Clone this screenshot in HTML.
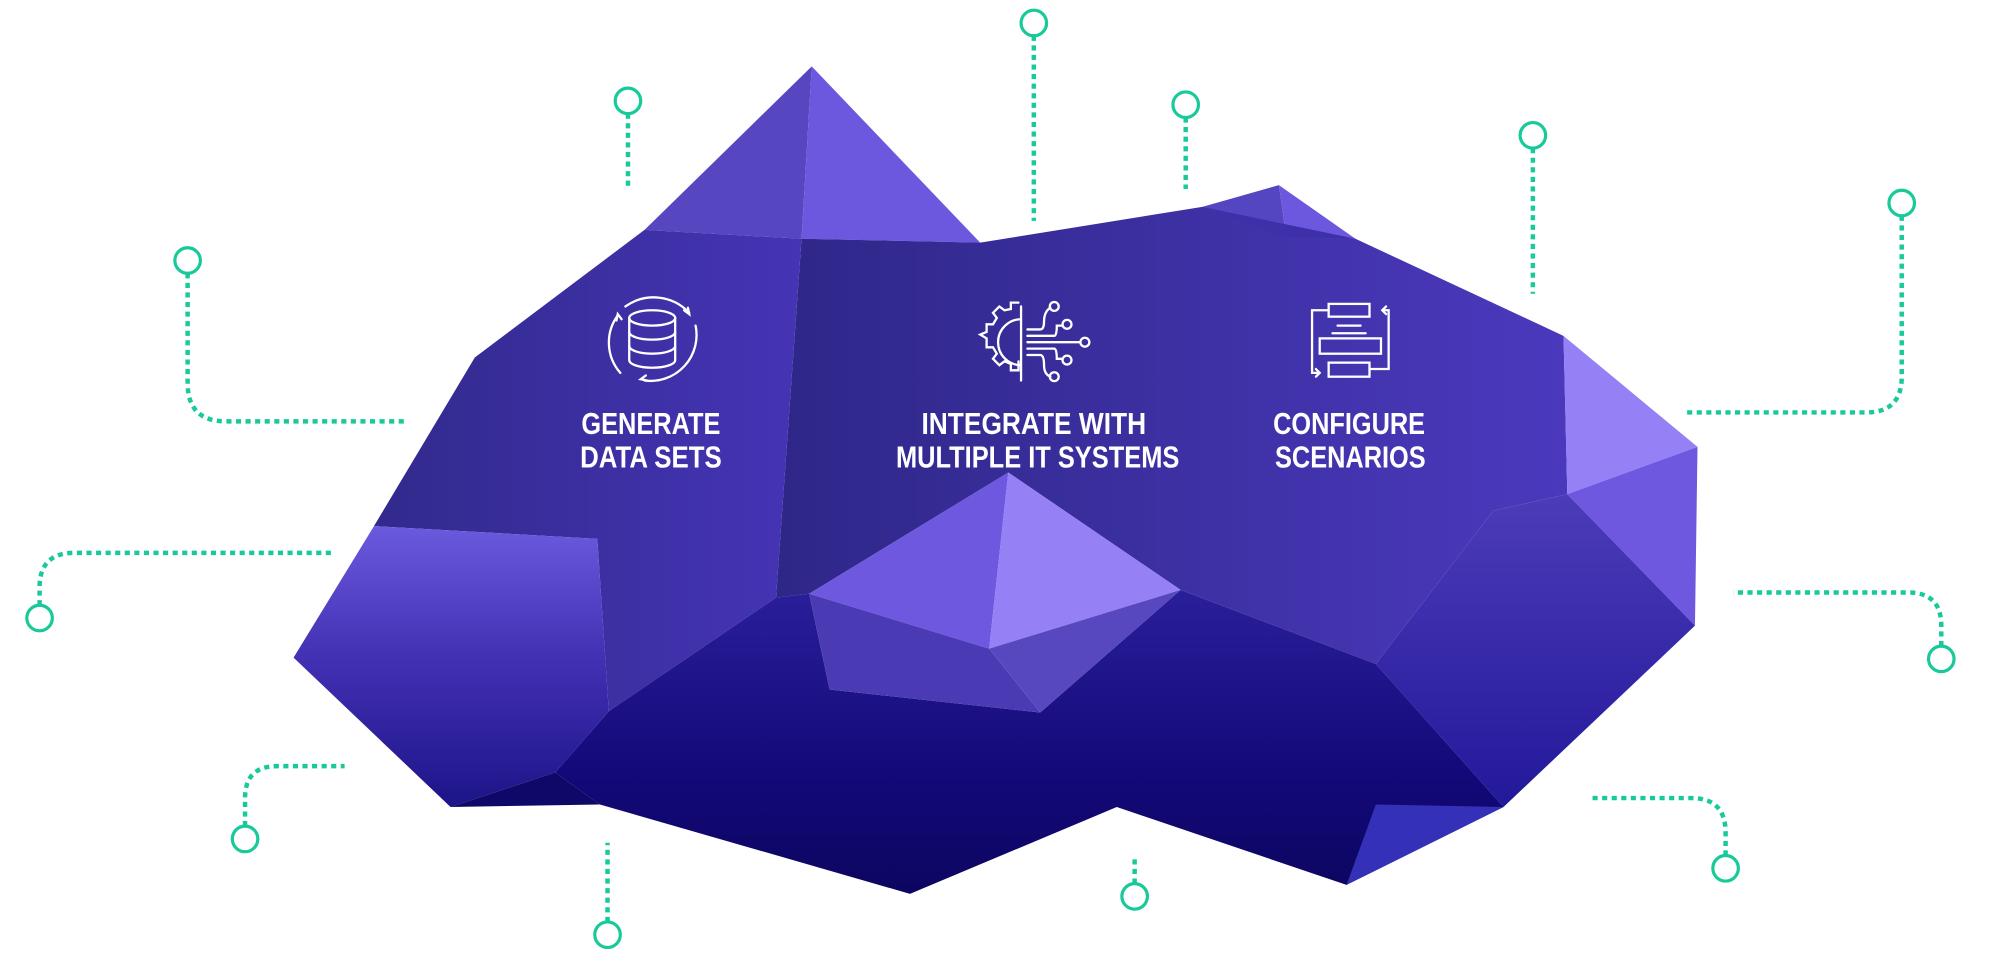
<!DOCTYPE html>
<html><head><meta charset="utf-8"><style>
html,body{margin:0;padding:0;background:#fff;width:2000px;height:973px;overflow:hidden}
svg{display:block}
</style></head><body>
<svg width="2000" height="973" viewBox="0 0 1567 762" preserveAspectRatio="none" xmlns="http://www.w3.org/2000/svg">
<defs>
<linearGradient id="gMain" x1="0" y1="0" x2="1" y2="0"><stop offset="0" stop-color="#2e2788"/><stop offset="1" stop-color="#4b39bd"/></linearGradient>
<linearGradient id="gLeft" x1="0" y1="0" x2="1" y2="0"><stop offset="0" stop-color="#312a8c"/><stop offset="1" stop-color="#4534b5"/></linearGradient>
<linearGradient id="gLL" x1="0" y1="0" x2="0" y2="1"><stop offset="0" stop-color="#6a5add"/><stop offset="0.45" stop-color="#4432b5"/><stop offset="1" stop-color="#1c1488"/></linearGradient>
<linearGradient id="gDark" x1="0" y1="0" x2="0" y2="1"><stop offset="0" stop-color="#2a1f9a"/><stop offset="0.6" stop-color="#13097a"/><stop offset="1" stop-color="#0c0660"/></linearGradient>
<linearGradient id="gR" x1="0" y1="0" x2="0" y2="1"><stop offset="0" stop-color="#4c3cb8"/><stop offset="1" stop-color="#22189a"/></linearGradient>
</defs>
<polygon points="505,180 636,52 628,187" fill="#5647c0"/>
<polygon points="636,52 768,190 628,187" fill="#6c58df"/>
<polygon points="628,187 768,190 942,162 1062,187 1225,263 1228,387 1170,400 1078,520 925,462 790,370 634,465 608,468" fill="url(#gMain)"/>
<polygon points="372,280 505,180 628,187 608,468 477,557 468,422 293,412" fill="url(#gLeft)"/>
<polygon points="942,162 1002,145 1008,187" fill="#5446c0"/>
<polygon points="1002,145 1062,187 1008,187" fill="#6c58df"/>
<polygon points="942,162 1008,187 1062,187" fill="#3e30a8"/>
<polygon points="1225,263 1330,350 1228,387" fill="#9580f5"/>
<polygon points="1228,387 1330,350 1328,490" fill="#6e58e0"/>
<polygon points="1170,400 1228,387 1328,490 1178,632 1078,520" fill="url(#gR)"/>
<polygon points="608,468 634,465 650,540 815,558 925,462 1078,520 1178,632 1055,693 875,632 713,700 470,630 435,605 477,557" fill="url(#gDark)"/>
<polygon points="293,412 468,422 477,557 435,605 353,632 230,515" fill="url(#gLL)"/>
<polygon points="435,605 470,630 353,632" fill="#0e0868"/>
<polygon points="1078,630 1178,632 1055,693" fill="#3430b8"/>
<polygon points="790,370 634,465 775,508" fill="#6e58e0"/>
<polygon points="790,370 925,462 775,508" fill="#9580f5"/>
<polygon points="634,465 775,508 815,558 650,540" fill="#4a3bb5"/>
<polygon points="775,508 925,462 815,558" fill="#5848c0"/>

<g fill="none" stroke="#fff" stroke-width="1.8" stroke-linecap="round">
  <ellipse cx="511" cy="249" rx="18" ry="6"/>
  <path d="M493 249 V282 A18 6 0 0 0 529 282 V249"/>
  <path d="M493 260 A18 6 0 0 0 529 260 M493 271 A18 6 0 0 0 529 271"/>
  <path d="M490 240 A38 38 0 0 1 540 245 M484 247 A36 36 0 0 0 486 292 M545 255 A36 36 0 0 1 505 298"/>
  <path d="M536 243 l4 3 -1 -5 M487 250 l-3 -4 -1 5 M506 294 l-4 3 5 1"/>
  <path d="M798 237 H792 V242 L787 243 L783 240 L778 245 L781 249 L778 254 H773 V260 L768 262 L773 265 V272 H778 L781 277 L778 281 L783 286 L787 283 L792 285 V290 H798 V283"/>
  <path d="M800 240 V298 M800 250 A18 18 0 0 0 800 286"/>
  <path d="M805 258 H815 Q818 258 818 252 Q818 244 823 241 M805 263 H826 Q828 263 828 255 H832 M805 268 H846 M805 273 H826 Q828 273 828 281 H832 M805 278 H815 Q818 278 818 286 Q818 293 823 295"/>
  <circle cx="826" cy="240" r="3.5"/><circle cx="836" cy="254" r="3.5"/><circle cx="850" cy="268" r="3.5"/><circle cx="836" cy="282" r="3.5"/><circle cx="826" cy="295" r="3.5"/>
  <rect x="1041" y="238" width="32" height="10"/>
  <rect x="1034" y="265" width="48" height="12"/>
  <rect x="1041" y="284" width="32" height="11"/>
  <path d="M1048 255 H1066 M1044 261 H1070"/>
  <path d="M1041 243 H1028 V292 H1033 M1073 289 H1088 V243 H1083 M1031 289 l3 3 -3 3 M1086 240 l-3 3 3 3"/>
</g>

<g fill="#fff" font-family="'Liberation Sans Narrow','Liberation Sans',sans-serif" font-weight="bold" font-size="24" text-anchor="middle">
  <text x="510" y="340" textLength="109" lengthAdjust="spacingAndGlyphs">GENERATE</text>
  <text x="510" y="366" textLength="111" lengthAdjust="spacingAndGlyphs">DATA SETS</text>
  <text x="810" y="340" textLength="176" lengthAdjust="spacingAndGlyphs">INTEGRATE WITH</text>
  <text x="813" y="366" textLength="222" lengthAdjust="spacingAndGlyphs">MULTIPLE IT SYSTEMS</text>
  <text x="1057" y="340" textLength="119" lengthAdjust="spacingAndGlyphs">CONFIGURE</text>
  <text x="1058" y="366" textLength="118" lengthAdjust="spacingAndGlyphs">SCENARIOS</text>
</g>

<g fill="none" stroke="#18c99a" stroke-width="3.5" stroke-dasharray="4 3.5">
  <path d="M147 214 V300 Q147 330 177 330 H318"/>
  <path d="M492 89 V147"/>
  <path d="M810 28 V173"/>
  <path d="M929 92 V148"/>
  <path d="M1201 116 V230"/>
  <path d="M1490 169 V295 Q1490 323 1462 323 H1320"/>
  <path d="M31 474 V460 Q31 433 58 433 H262"/>
  <path d="M1521 506 V490 Q1521 464 1495 464 H1358"/>
  <path d="M192 647 V625 Q192 600 217 600 H270"/>
  <path d="M476 722 V660"/>
  <path d="M889 692 V672"/>
  <path d="M1352 670 V652 Q1352 625 1325 625 H1247"/>
</g>
<g fill="#fff" stroke="#18c99a" stroke-width="2.5">
  <circle cx="147" cy="204" r="10"/><circle cx="492" cy="79" r="10"/><circle cx="810" cy="18" r="10"/>
  <circle cx="929" cy="82" r="10"/><circle cx="1201" cy="106" r="10"/><circle cx="1490" cy="159" r="10"/>
  <circle cx="31" cy="484" r="10"/><circle cx="1521" cy="516" r="10"/><circle cx="192" cy="657" r="10"/>
  <circle cx="476" cy="732" r="10"/><circle cx="889" cy="702" r="10"/><circle cx="1352" cy="680" r="10"/>
</g>
</svg>
</body></html>
